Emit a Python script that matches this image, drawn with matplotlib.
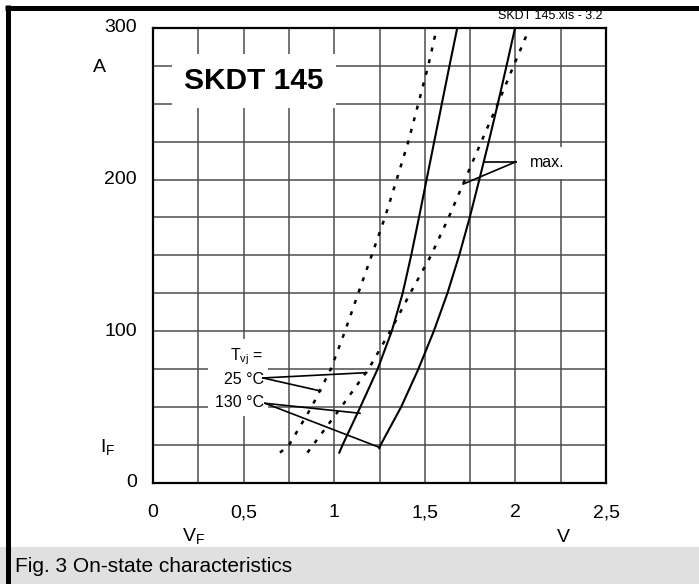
import matplotlib
matplotlib.use('Agg')
import matplotlib.pyplot as plt
from matplotlib.patches import Rectangle
from matplotlib.lines import Line2D

plt.rcParams['font.family'] = ['Liberation Sans', 'DejaVu Sans']
plt.rcParams['mathtext.fontset'] = 'custom'
plt.rcParams['mathtext.rm'] = 'Liberation Sans'
plt.rcParams['mathtext.it'] = 'Liberation Sans:italic'

# kennlinien (V_F in V, I_F in A)
current = [19.7, 25, 50, 75, 100, 125, 150, 175, 200, 225, 250, 275, 300]
vf_dot_left = [0.701, 0.752, 0.876, 0.982, 1.060, 1.133, 1.207, 1.280, 1.345, 1.409, 1.464, 1.519, 1.566]
vf_solid_left = [1.028, 1.047, 1.145, 1.240, 1.318, 1.378, 1.425, 1.468, 1.510, 1.552, 1.594, 1.636, 1.679]
current_dot_right = [19.7, 25, 50, 75, 100, 125, 150, 175, 200, 225, 250, 275, 296.5]
vf_dot_right = [0.852, 0.885, 1.04, 1.19, 1.31, 1.42, 1.535, 1.632, 1.722, 1.812, 1.903, 1.99, 2.066]
current_solid_right = [22.6, 25, 50, 75, 100, 125, 150, 175, 200, 225, 250, 275, 300]
vf_solid_right = [1.249, 1.257, 1.370, 1.465, 1.550, 1.625, 1.690, 1.748, 1.801, 1.853, 1.903, 1.951, 1.998]

x_ticks = [0, 0.5, 1, 1.5, 2, 2.5]
x_tick_labels = ['0', '0,5', '1', '1,5', '2', '2,5']
y_ticks = [0, 100, 200, 300]
y_tick_labels = ['0', '100', '200', '300']

# hinweislinien: (start, ende)
lead_25 = [((0.607, 69.0), (1.179, 72.5)), ((0.607, 69.0), (0.925, 60.4))]
lead_130 = [((0.618, 52.3), (1.142, 45.7)), ((0.618, 52.3), (1.249, 23.2))]
lead_max = [((2.003, 211.7), (1.832, 211.7)), ((2.003, 211.7), (1.712, 197.0))]

fig = plt.figure(figsize=(6.99, 5.84), dpi=100)
ax = fig.add_axes([153 / 699, 1 - 482.5 / 584, 453 / 699, 454.5 / 584])

ax.set_xlim(0, 2.5)
ax.set_ylim(0, 300)
ax.set_xticks([i * 0.25 for i in range(11)], minor=False)
ax.set_yticks([i * 25 for i in range(13)])
ax.grid(True, color='#4d4d4d', lw=1.1)
ax.set_axisbelow(True)
ax.tick_params(length=0, labelleft=False, labelbottom=False)
for s in ax.spines.values():
    s.set_linewidth(1.6)
    s.set_color('black')
    s.set_zorder(5)

for x, lab in zip(x_ticks, x_tick_labels):
    ax.text(x, -20, lab, ha='center', va='center', fontsize=14)
for y, lab in zip(y_ticks, y_tick_labels):
    ax.text(-0.09, y, lab, ha='right', va='center', fontsize=14)

dot = (0, (1.6, 3.2))
ax.plot(vf_dot_left, current, color='black', lw=1.8, ls=dot, zorder=3, clip_on=False)
ax.plot(vf_solid_left, current, color='black', lw=1.5, zorder=3, clip_on=False)
ax.plot(vf_dot_right, current_dot_right, color='black', lw=1.8, ls=dot, zorder=3, clip_on=False)
ax.plot(vf_solid_right, current_solid_right, color='black', lw=1.5, zorder=3, clip_on=False)

for lines in (lead_25, lead_130, lead_max):
    for (a, b) in lines:
        ax.plot([a[0], b[0]], [a[1], b[1]], color='black', lw=1.2, zorder=4)

# weisse flaechen hinter den beschriftungen
ax.add_patch(Rectangle((0.304, 44.2), 0.33, 50.5, facecolor='white', edgecolor='none', zorder=1.5))
ax.text(0.557, 265, 'SKDT 145', fontsize=21.5, fontweight='bold', ha='center', va='center',
        bbox=dict(facecolor='white', edgecolor='none', pad=9), zorder=2)
ax.text(2.081, 211, 'max.', fontsize=11.5, ha='left', va='center',
        bbox=dict(facecolor='white', edgecolor='none', pad=6), zorder=2)

ax.text(0.612, 82.8, r'T$_\mathrm{vj}$ =', fontsize=11.5, ha='right', va='center', zorder=2)
ax.text(0.612, 67.7, '25 °C', fontsize=11.5, ha='right', va='center', zorder=2)
ax.text(0.612, 53.1, '130 °C', fontsize=11.5, ha='right', va='center', zorder=2)

# achsbeschriftungen
fig.text(99 / 699, 1 - 67 / 584, 'A', fontsize=14, ha='center', va='center')
fig.text(100 / 699, 1 - 447 / 584, r'I$_\mathrm{F}$', fontsize=14, ha='left', va='center')
fig.text(182 / 699, 1 - 536 / 584, r'V$_\mathrm{F}$', fontsize=14, ha='left', va='center')
fig.text(563 / 699, 1 - 538 / 584, 'V', fontsize=14, ha='center', va='center')
fig.text(602 / 699, 1 - 16 / 584, 'SKDT 145.xls - 3.2', fontsize=9, ha='right', va='center')

# rahmen und bildunterschrift
fig.patches.append(Rectangle((0, 0), 1, 37 / 584, transform=fig.transFigure,
                             facecolor='#e0e0e0', edgecolor='none', zorder=5))
fig.text(15 / 699, 1 - 566 / 584, 'Fig. 3 On-state characteristics', fontsize=15,
         ha='left', va='center', zorder=6)
fig.lines.append(Line2D([5 / 699, 1], [1 - 7.5 / 584, 1 - 7.5 / 584], transform=fig.transFigure,
                        color='black', lw=3.6, solid_capstyle='butt', zorder=7))
fig.lines.append(Line2D([7.5 / 699, 7.5 / 699], [0, 1 - 5 / 584], transform=fig.transFigure,
                        color='black', lw=3.6, solid_capstyle='butt', zorder=7))

fig.savefig('out.png', dpi=100)
